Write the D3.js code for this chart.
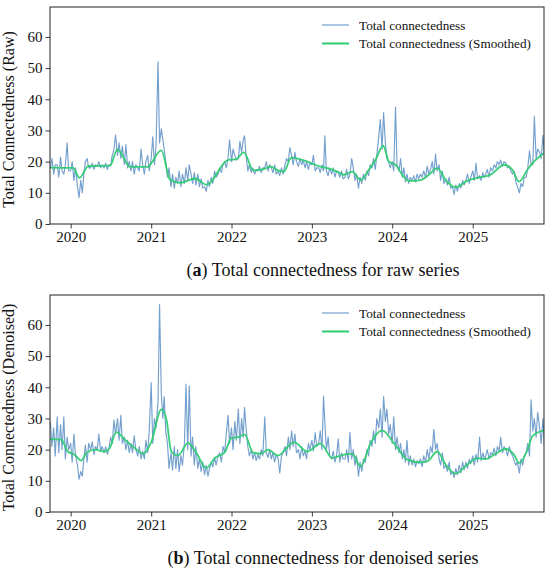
<!DOCTYPE html>
<html>
<head>
<meta charset="utf-8">
<script src="https://cdn.jsdelivr.net/npm/d3@7"></script>
<style>
  body { margin: 0; background: #fff; }
  text { font-family: "Liberation Serif", "Times New Roman", serif; fill: #111; }
</style>
</head>
<body>
<div id="fig"></div>
<script>
// raw series : 4 readings per month (days 1, 8, 16, 23), from 2019-10 to 2025-11
const START_YEAR = 2019, START_MONTH = 9;
const SLOT_DAYS = [1, 8, 16, 23];

const rawTop = [
  18, 21, 16, 19,   19, 15, 21.5, 17,   16, 19, 26, 17,          // 2019 oct-dec
  17, 20, 14, 18,   12, 8.5, 14, 10,   16, 20, 21, 18,           // 2020
  18, 19.5, 17.5, 19,   18.5, 20, 18, 19,   18, 19.5, 17.5, 19,
  19, 22, 24, 28.5,   22, 26, 21, 25,   19, 25.5, 18, 20,
  17, 20, 16, 19,   18, 17, 24, 19,   16, 20, 22, 17,
  21, 28, 19, 25,   52, 26, 30.5, 27,   24, 20, 15, 18,          // 2021
  12, 16, 11.5, 15,   13, 17, 12, 16,   13, 18, 14, 19,
  16, 13, 16.5, 12.5,   16, 12, 14.5, 11.5,   12, 10.5, 14, 12,
  15, 13, 17, 15,   16, 18, 16.5, 19,   20, 18, 21, 27,
  20, 24, 22, 20.5,   21, 26.5, 23, 27,   28.3, 22, 17, 19,      // 2022
  16.5, 18, 16, 17.5,   17, 18.5, 16.5, 18,   18, 20, 17, 19,
  18, 16.5, 19, 16,   17, 15.5, 18, 16,   19, 21, 20, 24.5,
  22, 19, 23, 20,   18.5, 21, 19, 20.5,   18, 20, 17.5, 19.5,
  19, 22, 17, 18,   18, 16.5, 19, 17,   28.3, 17, 15.5, 18,      // 2023
  16, 18, 15, 17,   16.5, 15, 17, 14.5,   15, 17.5, 14.5, 16,
  21, 18, 14, 16,   11.5, 15, 13, 16,   14, 17, 15.5, 19,
  18, 21, 17.5, 22,   28, 33.5, 24, 35.7,   26, 21, 20, 18,
  20, 17, 37.5, 19,   17, 21, 15, 18,   13.5, 16, 13, 15,        // 2024
  14, 15.5, 13.5, 16,   14.5, 16, 15, 17,   15, 18.5, 16, 17.5,
  20, 16, 22.5, 17,   19, 14, 17, 13,   14.5, 12.5, 15, 11.5,
  12, 9.5, 12.5, 10.5,   13, 11.5, 14, 12.5,   14, 16, 13, 15,
  17, 14, 19.5, 14.5,   15.5, 14, 16.5, 15,   16, 17.5, 15, 18,   // 2025
  17, 19, 18, 20,   19, 20.5, 18.5, 20,   19.5, 18, 18.5, 17,
  16, 17, 13.5, 12,   10, 13, 12, 15,   15, 18, 23.5, 19,
  19, 34.5, 21, 24,   23, 21, 28.5, 22
];

const rawBot = [
  29, 21, 27, 18,   30.5, 19, 28, 20,   30.5, 17, 24, 20,        // 2019 oct-dec
  22, 16, 25, 18,   15, 10.5, 13, 11.5,   17, 21.5, 16, 22,      // 2020
  20, 22.5, 18.5, 21,   20, 25, 19.5, 21,   19, 21, 18.5, 20.5,
  24, 22, 29.5, 25,   30, 23, 31, 22,   24, 20, 23, 19,
  22, 19, 24.5, 20,   18, 21, 17, 19.5,   17, 23, 19, 26,
  41.5, 22, 30, 27,   35, 66.5, 38, 30,   37, 26, 22, 14,        // 2021
  19, 13.5, 21, 14,   20, 13, 18, 15,   22, 41, 20, 40.5,
  18, 24, 15, 21,   14, 17, 13, 16,   12, 15, 11.5, 14,
  16, 14.5, 17.5, 15,   18, 19, 16, 21,   19, 25, 31, 22,
  27, 20, 29, 23,   33, 22, 30, 24,   33.6, 27, 21, 18,          // 2022
  20, 17, 19, 16.5,   18.5, 17, 20, 18,   30.5, 19, 17.5, 20,
  17, 19, 16, 18.5,   17, 12.5, 18, 19,   21, 18, 24, 20,
  26, 21, 25, 19,   20, 17, 21, 18,   19.5, 17, 22, 20,
  23, 19.5, 25.5, 21,   22, 26, 20, 37.2,   28.5, 20, 24, 18,    // 2023
  17, 19.5, 16, 18,   23.5, 16, 19, 17,   17, 20, 16, 25.5,
  17, 20, 15, 18,   11.5, 16, 13, 17,   16, 20, 18, 23,
  21, 26, 22, 30,   27, 33, 24, 37,   29, 33, 25, 28,
  22, 30.5, 20, 24,   19, 22, 17, 20,   16, 23, 15, 18,          // 2024
  15, 17, 14.5, 16.5,   15.5, 17, 14.5, 18,   16, 20, 17, 21,
  19, 26.5, 20, 22,   17, 15, 19, 14,   15, 13, 16, 12,
  13, 11, 14, 12,   15, 12.5, 16, 13.5,   16, 14, 17, 15.5,
  18, 15, 18.5, 16,   24, 16.5, 19, 17,   18, 20, 17, 19,        // 2025
  18.5, 20.5, 18, 21,   19.5, 24, 19, 21,   20, 18, 21, 19,
  18, 16.5, 15, 16,   12.5, 17, 15, 18,   19, 22, 18, 36,
  26, 30, 24, 32,   27, 22, 30, 21
];

// smoothed series : [decimal year, value]
const smoothTop = [
  [2019.743, 18.1], [2020.03, 18.0], [2020.11, 14.8], [2020.22, 18.6], [2020.49, 18.7],
  [2020.58, 23.9], [2020.74, 18.3], [2020.95, 18.3], [2021.125, 23.6], [2021.237, 14.1],
  [2021.361, 13.2], [2021.548, 14.6], [2021.69, 12.6], [2021.96, 20.6], [2022.05, 20.7],
  [2022.155, 23.0], [2022.27, 17.2], [2022.40, 17.6], [2022.48, 18.4], [2022.60, 17.0],
  [2022.65, 16.8], [2022.745, 21.3], [2022.943, 20.0], [2023.109, 18.4], [2023.192, 17.9],
  [2023.316, 16.8], [2023.399, 15.8], [2023.503, 16.8], [2023.607, 14.1], [2023.71, 17.4],
  [2023.793, 20.6], [2023.888, 25.1], [2023.959, 20.0], [2024.042, 19.0], [2024.124, 15.8],
  [2024.208, 13.8], [2024.353, 14.1], [2024.456, 15.8], [2024.56, 17.9], [2024.664, 14.1],
  [2024.789, 11.8], [2024.933, 13.9], [2025.1, 15.0], [2025.224, 15.8], [2025.39, 19.0],
  [2025.493, 17.4], [2025.576, 13.6], [2025.68, 17.4], [2025.762, 20.0], [2025.886, 22.7]
];

const smoothBot = [
  [2019.743, 23.4], [2019.883, 23.2], [2019.966, 19.4], [2020.05, 18.4], [2020.132, 16.5],
  [2020.194, 18.9], [2020.298, 20.0], [2020.423, 19.4], [2020.485, 20.5], [2020.567, 25.6],
  [2020.672, 23.2], [2020.796, 20.5], [2020.9, 18.7], [2021.003, 22.6], [2021.127, 32.9],
  [2021.19, 29.6], [2021.251, 19.4], [2021.335, 18.1], [2021.459, 22.2], [2021.563, 18.9],
  [2021.687, 14.1], [2021.791, 17.3], [2021.915, 19.1], [2021.998, 23.7], [2022.081, 24.0],
  [2022.164, 24.8], [2022.267, 19.1], [2022.371, 18.7], [2022.454, 20.0], [2022.578, 18.1],
  [2022.703, 21.0], [2022.777, 22.4], [2022.943, 19.4], [2023.109, 21.9], [2023.254, 17.3],
  [2023.358, 18.1], [2023.503, 18.7], [2023.607, 14.6], [2023.731, 22.1], [2023.876, 26.2],
  [2024.021, 22.1], [2024.187, 16.8], [2024.353, 15.9], [2024.436, 16.2], [2024.56, 19.4],
  [2024.664, 15.2], [2024.789, 12.3], [2024.933, 15.2], [2025.058, 17.3], [2025.162, 17.0],
  [2025.266, 18.4], [2025.411, 20.2], [2025.514, 18.4], [2025.576, 15.7], [2025.68, 19.8],
  [2025.742, 24.3], [2025.887, 26.2]
];

const yTicks = [0, 10, 20, 30, 40, 50, 60];
const xTickYears = [2020, 2021, 2022, 2023, 2024, 2025];
const legendLabels = ["Total connectedness", "Total connectedness (Smoothed)"];
const yLabels = ["Total Connectedness (Raw)", "Total Connectedness (Denoised)"];
const captions = [["a", " Total connectedness for raw series"], ["b", " Total connectedness for denoised series"]];

const W = 550, H = 578;
const BLUE = "#5a8fc6", GREEN = "#2ecc71";
const X_START = yearToDate(2019.743), X_END = yearToDate(2025.887);
const Y_MAX = 69.6;

function yearToDate(y)
{
  let yr = Math.floor(y);
  let t0 = new Date(yr, 0, 1), t1 = new Date(yr + 1, 0, 1);
  return new Date(+t0 + (y - yr) * (t1 - t0));
}

function rawPoints(values)
{
  return values.map((v, i) => ({
    date: new Date(START_YEAR, START_MONTH + Math.floor(i / 4), SLOT_DAYS[i % 4]),
    value: v
  }));
}

const svg = d3.select("#fig").append("svg").attr("width", W).attr("height", H);

function panel(top, bottom, raw, smooth, idx)
{
  const left = 50, right = 544;
  const x = d3.scaleTime().domain([X_START, X_END]).range([left, right]);
  const y = d3.scaleLinear().domain([0, Y_MAX]).range([bottom, top]);

  const g = svg.append("g");
  const clipId = "clip" + idx;
  g.append("clipPath").attr("id", clipId).append("rect")
    .attr("x", left).attr("y", top).attr("width", right - left).attr("height", bottom - top);

  const line = d3.line().x(d => x(d.date)).y(d => y(d.value));

  g.append("path").datum(rawPoints(raw))
    .attr("clip-path", "url(#" + clipId + ")")
    .attr("fill", "none").attr("stroke", BLUE).attr("stroke-width", 1.15)
    .attr("stroke-opacity", 0.85).attr("stroke-linejoin", "round")
    .attr("d", line);

  const sm = smooth.map(p => ({ date: yearToDate(p[0]), value: p[1] }));
  g.append("path").datum(sm)
    .attr("clip-path", "url(#" + clipId + ")")
    .attr("fill", "none").attr("stroke", GREEN).attr("stroke-width", 1.8)
    .attr("stroke-opacity", 0.95)
    .attr("d", line.curve(d3.curveMonotoneX));

  // axes
  const xAxis = d3.axisBottom(x)
    .tickValues(xTickYears.map(yr => new Date(yr, 0, 1)))
    .tickFormat(d3.timeFormat("%Y"))
    .tickSizeInner(4.5).tickSizeOuter(0).tickPadding(3);
  const yAxis = d3.axisLeft(y).tickValues(yTicks)
    .tickSizeInner(4.5).tickSizeOuter(0).tickPadding(3);

  const gx = g.append("g").attr("transform", "translate(0," + bottom + ")").call(xAxis);
  const gy = g.append("g").attr("transform", "translate(" + left + ",0)").call(yAxis);
  [gx, gy].forEach(a => {
    a.select(".domain").remove();
    a.selectAll("line").attr("stroke", "#222").attr("stroke-width", 0.9);
    a.selectAll("text").style("font-size", "15px").attr("fill", "#111");
  });

  g.append("rect")
    .attr("x", left).attr("y", top).attr("width", right - left).attr("height", bottom - top)
    .attr("fill", "none").attr("stroke", "#222").attr("stroke-width", 1);

  // y label
  g.append("text")
    .attr("transform", "translate(14," + ((top + bottom) / 2 + 4) + ") rotate(-90)")
    .attr("text-anchor", "middle")
    .style("font-size", "16px")
    .text(yLabels[idx]);

  // legend
  const lg = g.append("g").attr("transform", "translate(322," + (top + 18) + ")");
  [[BLUE, 1.2, 0.85], [GREEN, 2, 1]].forEach((s, i) => {
    lg.append("line").attr("x1", 0).attr("x2", 27).attr("y1", i * 18.5).attr("y2", i * 18.5)
      .attr("stroke", s[0]).attr("stroke-width", s[1]).attr("stroke-opacity", s[2]);
    lg.append("text").attr("x", 37).attr("y", i * 18.5 + 4.5)
      .style("font-size", "13.2px").text(legendLabels[i]);
  });

  // caption
  const cap = svg.append("text")
    .attr("x", 323).attr("y", bottom + 52)
    .attr("text-anchor", "middle").style("font-size", "18px");
  cap.append("tspan").text("(");
  cap.append("tspan").attr("font-weight", "bold").text(captions[idx][0]);
  cap.append("tspan").text(")" + captions[idx][1]);
}

panel(7, 224, rawTop, smoothTop, 0);
panel(295, 512, rawBot, smoothBot, 1);
</script>
</body>
</html>
